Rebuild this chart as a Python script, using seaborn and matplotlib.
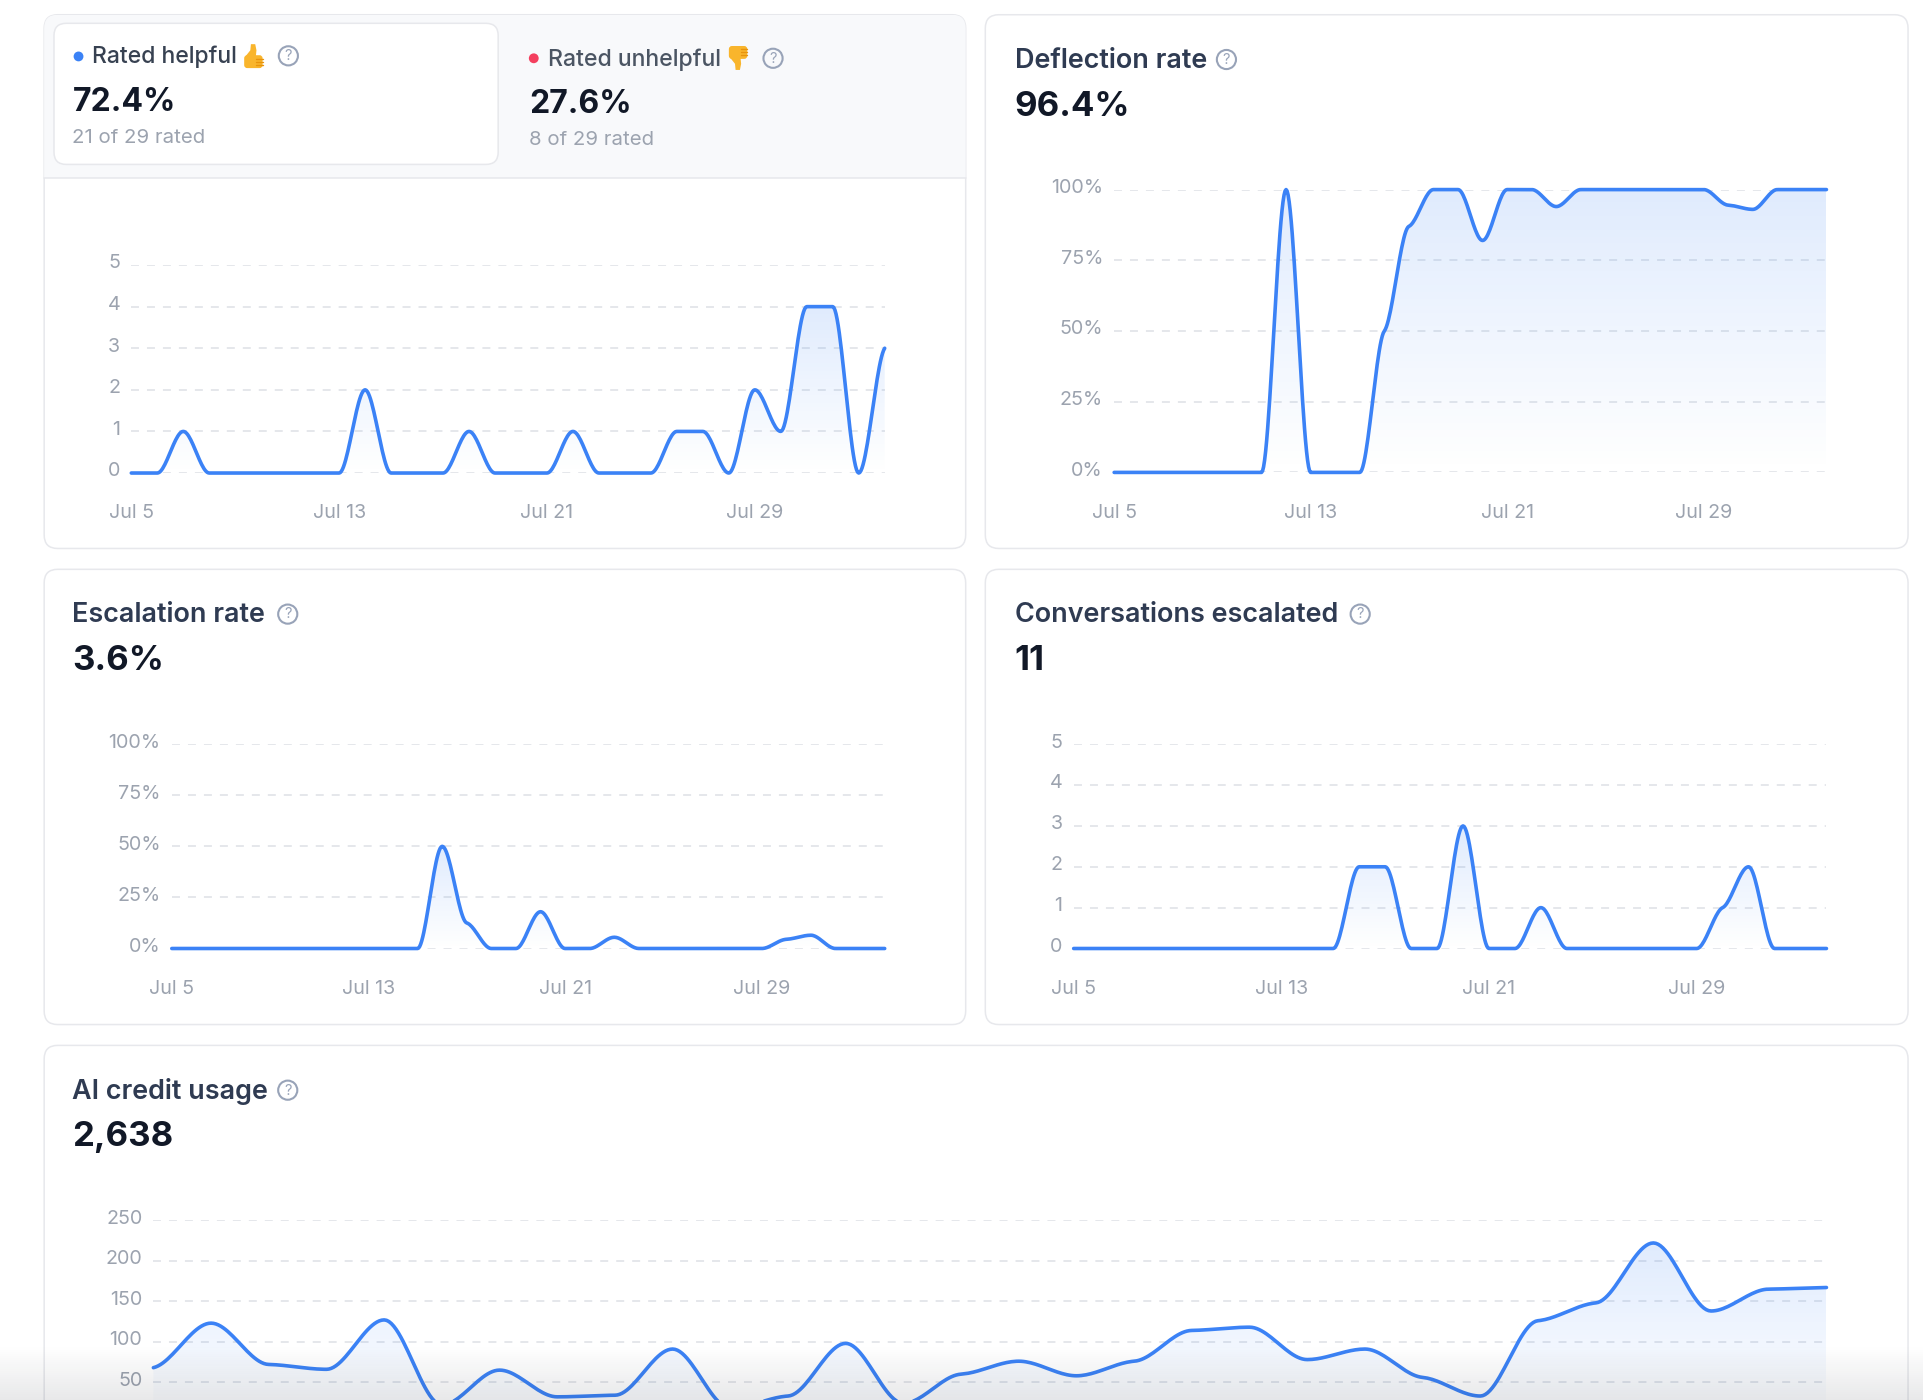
import numpy as np
import pandas as pd
import seaborn as sns
import matplotlib.pyplot as plt
from matplotlib.patches import FancyBboxPatch, Rectangle, Circle, Polygon
from matplotlib.transforms import ScaledTranslation

# daily values, Jul 5 to Aug 3
helpful = [0, 0, 1, 0, 0, 0, 0, 0, 0, 2, 0, 0, 0, 1, 0, 0, 0, 1, 0, 0, 0, 1, 1, 0, 2, 1, 4, 4, 0, 3]
deflection = [0, 0, 0, 0, 0, 0, 0, 100, 0, 0, 0, 50, 87, 100, 100, 82, 100, 100, 94, 100, 100, 100, 100, 100, 100, 94.5, 93, 100, 100, 100]
escalation = [0, 0, 0, 0, 0, 0, 0, 0, 0, 0, 0, 50, 12.5, 0, 0, 18, 0, 0, 5.5, 0, 0, 0, 0, 0, 0, 4.5, 6.5, 0, 0, 0]
escalated = [0, 0, 0, 0, 0, 0, 0, 0, 0, 0, 0, 2, 2, 0, 0, 3, 0, 0, 1, 0, 0, 0, 0, 0, 0, 1, 2, 0, 0, 0]
credits = [68, 123, 72, 66, 127, 22, 65, 32, 34, 91, 18, 33, 98, 24, 60, 76, 58, 76, 114, 118, 78, 91, 56, 33, 126, 148, 222, 138, 165, 167]

tick_days = [0, 8, 16, 24]
tick_labels = ["Jul 5", "Jul 13", "Jul 21", "Jul 29"]
count_ticks = [0, 1, 2, 3, 4, 5]
pct_ticks = [0, 25, 50, 75, 100]
pct_labels = ["0%", "25%", "50%", "75%", "100%"]
credit_ticks = [50, 100, 150, 200, 250]  # the 0 row and the dates fall below the screenshot

BLUE = "#3b82f6"
GRID = "#e2e4e9"
MUTED = "#9ca3af"
TITLE = "#2f3b52"
VALUE = "#111827"
BORDER = "#e7e8ec"
FONT = ["Inter", "DejaVu Sans"]

W, H = 1924, 1400
REF_W, REF_H = 1568, 1141  # layout numbers below are in this scale


def smooth_curve(values, n=24):
    # curve drawn between the daily values, tangents kept small like the dashboard's
    y = np.asarray(values, dtype=float)
    x = np.arange(len(y), dtype=float)
    d = np.diff(y)
    m = np.zeros(len(y))
    for i in range(1, len(y) - 1):
        if d[i - 1] * d[i] > 0:
            m[i] = np.sign(d[i]) * 0.3 * min(abs(d[i - 1]), abs(d[i]))
    m[0] = 0.3 * d[0]
    m[-1] = 0.3 * d[-1]
    t = np.linspace(0, 1, n, endpoint=False)
    xs, ys = [], []
    for i in range(len(y) - 1):
        h00 = 2 * t**3 - 3 * t**2 + 1
        h10 = t**3 - 2 * t**2 + t
        h01 = -2 * t**3 + 3 * t**2
        h11 = t**3 - t**2
        xs.append(x[i] + t)
        ys.append(h00 * y[i] + h10 * m[i] + h01 * y[i + 1] + h11 * m[i + 1])
    xs.append([x[-1]])
    ys.append([y[-1]])
    return np.concatenate(xs), np.concatenate(ys)


def add_card(x0, y0, x1, y1):
    card = FancyBboxPatch((x0, y0), x1 - x0, y1 - y0, boxstyle="round,pad=0,rounding_size=11",
                          fc="white", ec=BORDER, lw=1.1, zorder=1)
    bg.add_patch(card)
    return card


def help_icon(x, y):
    bg.add_patch(Circle((x, y), 7.8, fc="none", ec="#98a3b8", lw=1.5, zorder=3))
    bg.text(x, y + 0.3, "?", fontsize=10.5, color="#98a3b8", ha="center", va="center", family=FONT, zorder=3)


def thumb(cx, cy, sign):
    # no installed font has the thumb emoji, so it is drawn; sign=1 up, sign=-1 down
    gold, dark = "#f9b52c", "#e8930c"
    pts = [(-7, 0), (-3, -5), (-2.5, -10), (1, -10), (2, -5), (1.5, 0)]
    bg.add_patch(Polygon([(cx + a, cy + sign * b) for a, b in pts], closed=True, fc=gold, ec="none", zorder=3))
    y0 = cy - 1 if sign == 1 else cy - 9.5
    bg.add_patch(FancyBboxPatch((cx - 8, y0), 15, 10.5, boxstyle="round,pad=0,rounding_size=2.5",
                                fc=gold, ec="none", zorder=3))
    for k in range(3):
        yy = cy + sign * (2 + 2.6 * k)
        bg.plot([cx + 2, cx + 7], [yy, yy], color=dark, lw=1, zorder=3.1)


def header(x, y, title, value, icon_x):
    bg.text(x, y + 1, title, fontsize=19.4, fontweight=600, color=TITLE, va="center", family=FONT, zorder=3)
    help_icon(icon_x, y)
    bg.text(x, y + 38.5, value, fontsize=25, fontweight=700, color=VALUE, va="center", family=FONT, zorder=3)


def draw_chart(values, x0, x1, y_zero, y_top, ticks, ymax, labels=None, dates=True):
    s = W / REF_W
    ax = fig.add_axes([x0 * s / W, 1 - y_zero * s / H, (x1 - x0) * s / W, (y_zero - y_top) * s / H])
    ax.patch.set_alpha(0)
    xs, ys = smooth_curve(values)
    frame = pd.DataFrame({"day": xs, "value": ys})

    # area under the line, fading out towards the baseline
    area = ax.fill_between(xs, 0, ys, color="none", lw=0, zorder=2)
    fade = np.zeros((256, 1, 4))
    fade[..., :3] = (0.231, 0.51, 0.965)
    fade[:, 0, 3] = np.linspace(0.16, 0.0, 256)
    img = ax.imshow(fade, extent=(0, 29, 0, max(values)), aspect="auto", origin="upper", zorder=2)
    img.set_clip_path(area.get_paths()[0], transform=ax.transData)

    sns.lineplot(data=frame, x="day", y="value", ax=ax, color=BLUE, linewidth=2.6, errorbar=None,
                 estimator=None, clip_on=False, zorder=4, solid_capstyle="round")

    ax.set_xlim(0, 29)
    ax.set_ylim(0, ymax)
    ax.set_xlabel("")
    ax.set_ylabel("")
    if dates:
        ax.set_xticks(tick_days)
        ax.set_xticklabels(tick_labels)
    else:
        ax.set_xticks([])
    ax.set_yticks(ticks)
    ax.set_yticklabels(labels if labels else [str(t) for t in ticks])
    ax.tick_params(length=0, labelsize=14.2, labelcolor=MUTED)
    ax.tick_params(axis="x", pad=22.5)
    ax.tick_params(axis="y", pad=8)
    for lab in ax.get_xticklabels() + ax.get_yticklabels():
        lab.set_family(FONT)
    for lab in ax.get_yticklabels():
        lab.set_transform(lab.get_transform() + ScaledTranslation(0, 3.6 / 100, fig.dpi_scale_trans))
    ax.grid(axis="y", color=GRID, lw=1.25, linestyle=(0, (4.6, 4.6)))
    ax.grid(axis="x", visible=False)
    ax.set_axisbelow(True)
    sns.despine(ax=ax, left=True, bottom=True)
    return ax


sns.set_theme(style="white")
plt.rcParams["font.family"] = FONT

fig = plt.figure(figsize=(W / 100, H / 100), dpi=100, facecolor="white")
bg = fig.add_axes([0, 0, 1, 1])
bg.set_xlim(0, REF_W)
bg.set_ylim(REF_H, 0)
bg.axis("off")

# cards
card1 = add_card(36, 12, 787, 447)
band = Rectangle((36, 12), 751, 133, fc="#f8f9fb", ec="none", zorder=1.5)
bg.add_patch(band)
band.set_clip_path(card1)
bg.plot([36, 787], [145, 145], color=BORDER, lw=1.1, zorder=1.6)
bg.add_patch(FancyBboxPatch((44, 19), 362, 115, boxstyle="round,pad=0,rounding_size=10",
                            fc="white", ec=BORDER, lw=1.1, zorder=2))
add_card(803, 12, 1555, 447)
add_card(36, 464, 787, 835)
add_card(803, 464, 1555, 835)
add_card(36, 852, 1555, 1180)

# rated tabs
bg.add_patch(Circle((64, 46), 4, fc=BLUE, ec="none", zorder=3))
bg.text(75, 46.5, "Rated helpful", fontsize=16.5, fontweight=500, color="#374151", va="center", family=FONT, zorder=3)
thumb(207, 46, 1)
help_icon(235, 45.5)
bg.text(59, 83.5, "72.4%", fontsize=23, fontweight=700, color=VALUE, va="center", family=FONT, zorder=3)
bg.text(59, 112.5, "21 of 29 rated", fontsize=14.7, color=MUTED, va="center", family=FONT, zorder=3)

bg.add_patch(Circle((435, 47.5), 4, fc="#f43f5e", ec="none", zorder=3))
bg.text(447, 48.5, "Rated unhelpful", fontsize=16.6, fontweight=500, color="#4b5563", va="center", family=FONT, zorder=3)
thumb(602, 47, -1)
help_icon(630, 47.5)
bg.text(431, 85.5, "27.6%", fontsize=23, fontweight=700, color=VALUE, va="center", family=FONT, zorder=3)
bg.text(431, 114.5, "8 of 29 rated", fontsize=14.7, color=MUTED, va="center", family=FONT, zorder=3)

header(827, 48.5, "Deflection rate", "96.4%", 999.5)
header(59, 500.5, "Escalation rate", "3.6%", 234.5)
header(827, 500.5, "Conversations escalated", "11", 1108.5)
header(59, 888.5, "AI credit usage", "2,638", 234.5)

# charts
draw_chart(helpful, 107, 721, 385.5, 216, count_ticks, 5)
draw_chart(deflection, 908, 1488.5, 385, 154.5, pct_ticks, 100, pct_labels)
draw_chart(escalation, 140, 721, 773, 606.5, pct_ticks, 100, pct_labels)
draw_chart(escalated, 875, 1488.5, 773, 606.5, count_ticks, 5)
draw_chart(credits, 125, 1488.5, 1159.5, 994.5, credit_ticks, 250, dates=False)

# page fade over the bottom edge
shade = fig.add_axes([0, 0, 1, 55 / H], zorder=20)
ramp = np.zeros((100, 1, 4))
ramp[..., :3] = (0.1, 0.11, 0.16)
ramp[:, 0, 3] = np.linspace(0.0, 0.1, 100)
shade.imshow(ramp, aspect="auto", origin="upper")
shade.axis("off")

fig.savefig("out.png", dpi=100)
